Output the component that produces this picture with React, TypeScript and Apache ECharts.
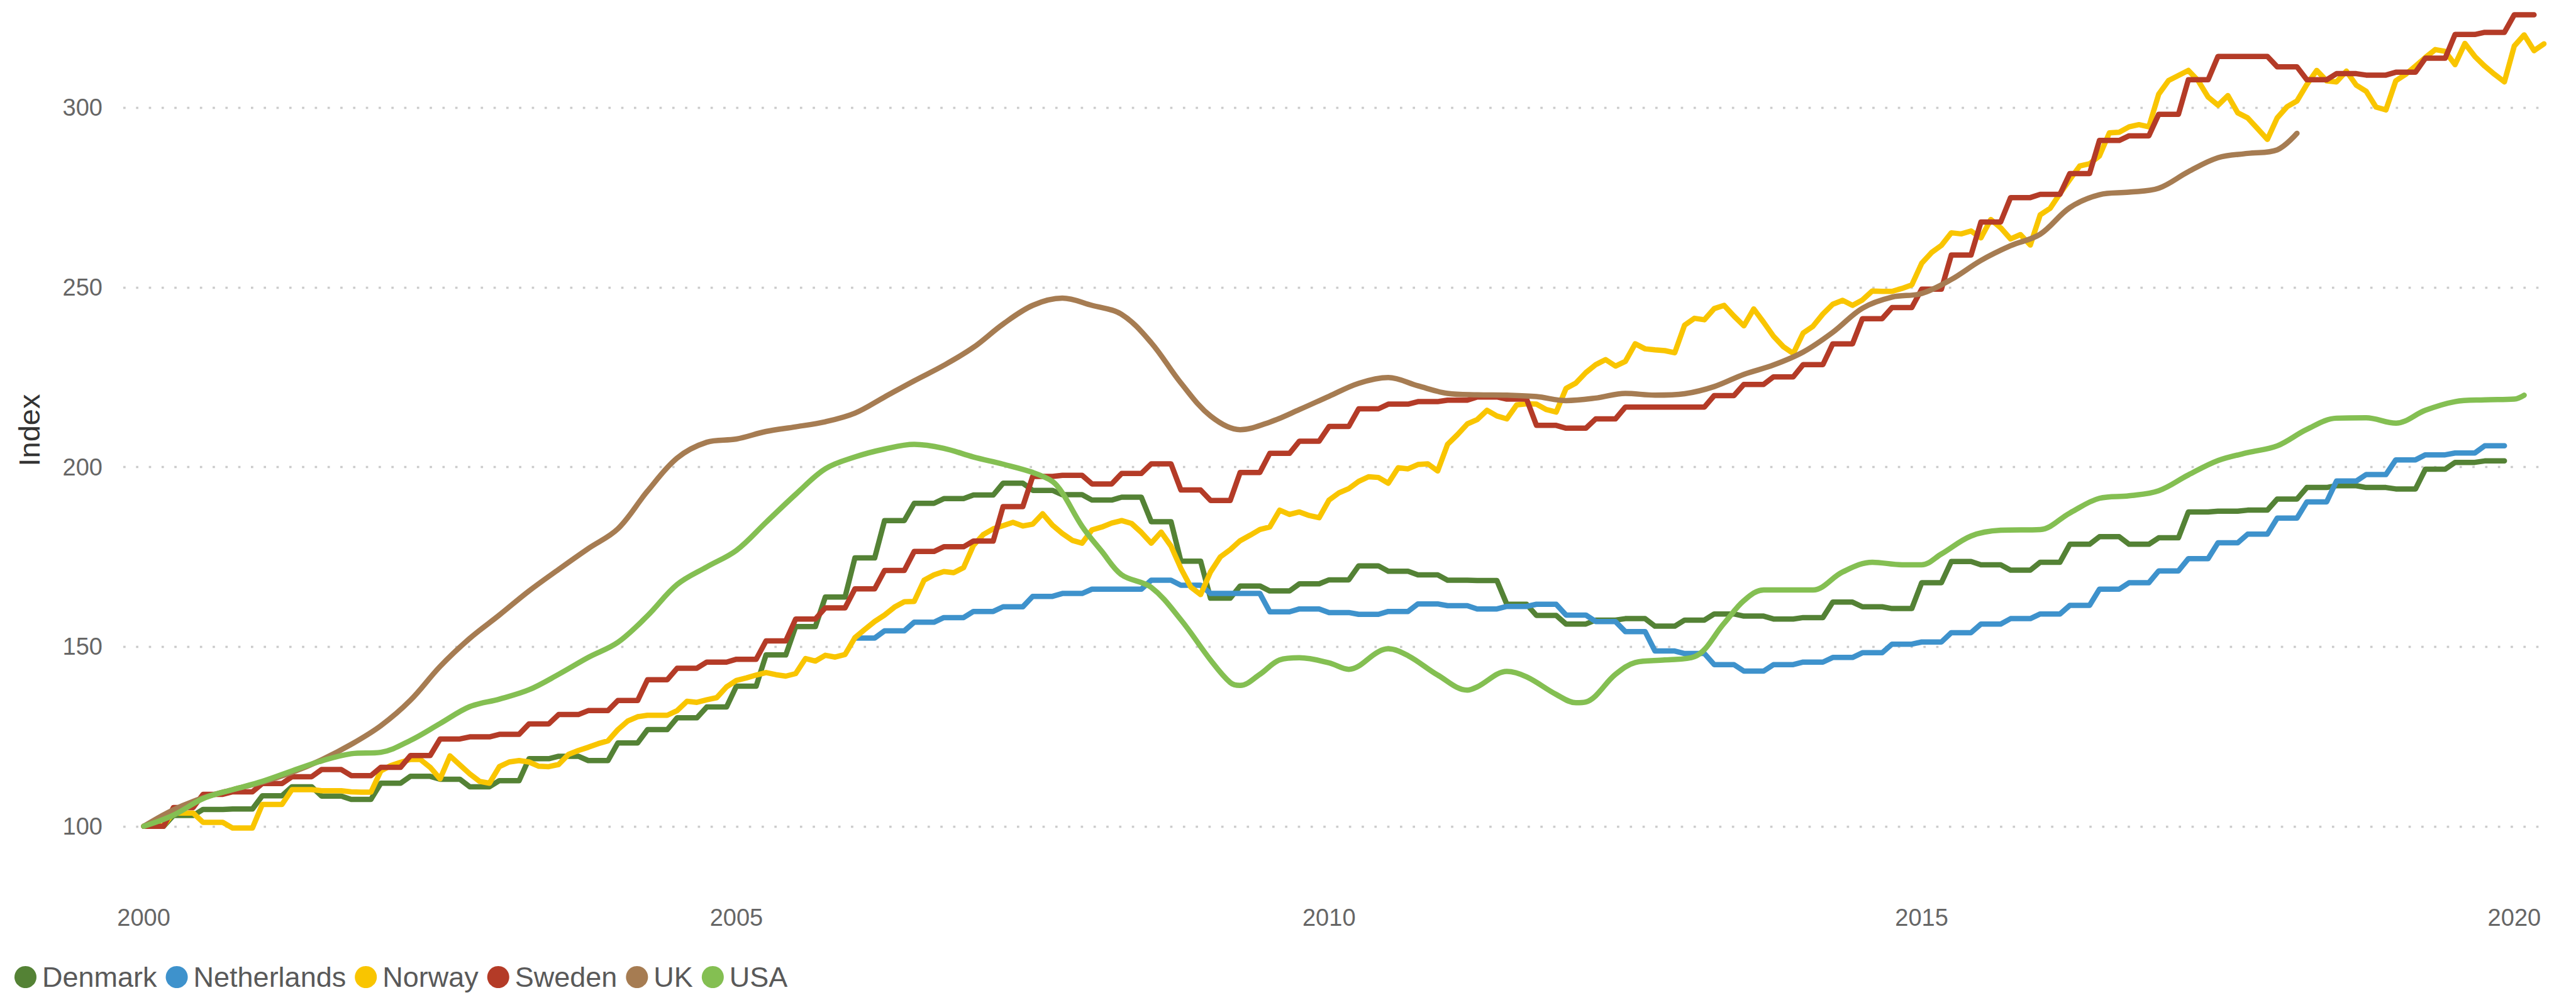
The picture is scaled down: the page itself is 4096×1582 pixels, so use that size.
import React, { useEffect, useRef } from 'react';
import * as echarts from 'echarts';

// ---------------- DATA ----------------
const COUNTRIES = ['Denmark', 'Netherlands', 'Norway', 'Sweden', 'UK', 'USA'];
const COLORS = ['#548235', '#3e92cc', '#f9c500', '#b43b27', '#a67c52', '#84bf52'];
const START_YEAR = 2000;
const Y_TICKS = [100, 150, 200, 250, 300];
const X_TICKS = [2000, 2005, 2010, 2015, 2020];
const Y_TITLE = 'Index';

// quarterly index values, first value = 2000 Q1
const denmarkQ = [
  100, 103.0, 104.7, 104.8, 108.5, 111.0, 108.4, 107.5, 112.0, 113.9,
  113.1, 111.0, 112.7, 118.8, 119.5, 118.3, 123.2, 126.9, 130.2, 133.2,
  139.0, 147.7, 155.6, 163.8, 174.7, 185.1, 189.9, 191.2, 192.2, 195.5,
  193.5, 192.3, 190.8, 191.6, 184.8, 173.8, 163.5, 166.9, 165.5, 167.5,
  168.6, 172.5, 171.0, 170.0, 168.5, 168.4, 161.8, 158.7, 156.3, 157.4,
  157.8, 155.7, 157.4, 159.1, 158.5, 157.7, 158.1, 162.4, 161.1, 160.6,
  167.8, 173.7, 172.8, 171.3, 173.5, 178.5, 180.6, 178.5, 180.3, 187.5,
  187.7, 188.0, 191.1, 194.3, 194.8, 194.3, 193.9, 199.4, 201.3, 201.7,
];

const swedenQ = [
  100, 105.2, 108.9, 109.6, 111.9, 113.8, 115.8, 114.1, 116.4, 119.7,
  124.3, 124.9, 125.6, 128.5, 131.1, 132.2, 135.0, 140.8, 144.0, 145.7,
  146.5, 151.6, 157.7, 160.8, 166.1, 171.2, 176.5, 177.8, 179.4, 189.0,
  197.4, 197.7, 195.3, 198.2, 200.9, 193.6, 190.7, 198.5, 203.8, 207.2,
  211.3, 216.2, 217.5, 218.2, 218.6, 219.5, 218.9, 211.6, 210.8, 213.4,
  216.7, 216.7, 216.7, 219.9, 223.0, 225.1, 228.5, 234.3, 241.3, 244.4,
  249.5, 259.0, 268.2, 275.0, 275.9, 281.7, 290.9, 292.2, 298.2, 307.8,
  314.3, 314.3, 311.4, 307.8, 309.5, 309.1, 309.9, 313.8, 320.4, 321.0,
  325.9,
];

// Netherlands starts in 2006 Q1 (quarter index 24)
const NETHERLANDS_START_Q = 24;
const netherlandsQ = [
  152.4, 154.4, 156.8, 158.1, 159.8, 161.1, 164.0, 164.8, 166.0, 166.0,
  168.5, 167.1, 164.8, 164.8, 159.7, 160.5, 159.5, 159.0, 159.8, 161.9,
  161.4, 160.5, 161.2, 161.8, 158.8, 157.0, 154.2, 148.8, 148.1, 145.0,
  143.2, 145.0, 145.7, 147.0, 148.3, 150.7, 151.3, 153.9, 156.3, 157.8,
  159.1, 161.5, 166.0, 167.8, 171.1, 174.5, 178.9, 181.3, 185.8, 190.3,
  196.1, 197.9, 202.0, 203.4, 203.9, 205.9,
];

// Norway monthly values, Jan 2000 .. Apr 2020
const norwayM = [
  100.0, 100.1, 100.2, 103.7, 103.7, 103.7, 101.1, 101.1, 101.1, 99.5,
  99.5, 99.5, 106.1, 106.1, 106.1, 110.2, 110.2, 110.2, 109.9, 109.9,
  109.9, 109.6, 109.5, 109.5, 115.4, 116.9, 117.8, 118.6, 118.6, 116.4,
  113.2, 119.6, 117.1, 114.6, 112.5, 112.0, 116.6, 117.9, 118.3, 117.9,
  116.7, 116.6, 117.2, 120.0, 121.1, 122.0, 123.0, 123.8, 126.9, 129.3,
  130.5, 130.9, 130.9, 130.9, 132.2, 134.8, 134.5, 135.2, 135.8, 138.8,
  140.6, 141.3, 142.1, 142.8, 142.2, 141.8, 142.5, 146.7, 146.0, 147.6,
  147.1, 147.8, 152.5, 154.8, 157.0, 158.8, 161.0, 162.5, 162.6, 168.5,
  170.0, 170.9, 170.6, 172.0, 178.2, 181.2, 182.8, 183.7, 184.6, 183.6,
  184.1, 187.0, 183.8, 181.5, 179.6, 178.8, 182.5, 183.3, 184.4, 185.1,
  184.3, 181.8, 178.8, 181.9, 178.0, 171.8, 166.6, 164.5, 170.8, 175.0,
  177.0, 179.5, 181.0, 182.6, 183.3, 188.0, 186.8, 187.5, 186.5, 185.9,
  190.8, 192.8, 194.0, 196.0, 197.3, 197.1, 195.5, 199.8, 199.5, 200.7,
  200.9, 198.9, 206.3, 209.0, 212.0, 213.2, 215.8, 214.2, 213.4, 217.3,
  217.6, 217.5, 216.0, 215.3, 221.9, 223.4, 226.3, 228.5, 229.9, 228.1,
  229.4, 234.3, 232.9, 232.6, 232.4, 231.8, 239.5, 241.4, 241.0, 244.1,
  245.0, 242.0, 239.3, 244.0, 240.3, 236.4, 233.5, 231.6, 237.3, 239.2,
  242.6, 245.3, 246.4, 245.0, 246.5, 249.0, 248.9, 248.9, 249.7, 250.7,
  256.7, 259.7, 261.7, 265.2, 264.9, 265.7, 263.8, 268.9, 266.6, 263.5,
  264.7, 261.8, 270.2, 272.0, 276.1, 280.0, 283.8, 284.4, 286.6, 293.0,
  293.2, 294.7, 295.3, 294.7, 303.8, 307.6, 309.0, 310.4, 307.5, 303.0,
  300.7, 303.4, 298.6, 297.2, 294.2, 291.2, 297.2, 300.3, 301.9, 306.5,
  310.4, 307.5, 307.2, 310.2, 306.3, 304.6, 300.2, 299.4, 307.5, 309.3,
  311.6, 314.0, 316.2, 315.7, 312.0, 317.9, 314.3, 311.6, 309.3, 307.2,
  317.2, 320.3, 315.9, 317.8,
];

// UK and USA: [month index from Jan 2000, value]
const ukM = [
  [0, 100.0], [3, 104.6], [6, 107.9], [9, 110.2], [12, 112.3], [15, 115.0], [18, 118.5],
  [21, 122.8], [24, 128.0], [27, 135.1], [30, 144.5], [33, 152.3], [36, 158.8], [39, 165.5],
  [42, 171.5], [45, 177.3], [48, 182.8], [51, 193.3], [54, 202.5], [57, 206.9], [60, 207.8],
  [63, 209.9], [66, 211.2], [69, 212.6], [72, 215.0], [75, 219.5], [78, 224.0], [81, 228.3],
  [84, 233.3], [87, 239.8], [90, 245.0], [93, 247.0], [96, 245.0], [99, 242.5], [102, 234.6],
  [105, 223.4], [108, 214.2], [111, 210.4], [114, 212.5], [117, 216.0], [120, 219.7],
  [123, 223.3], [126, 224.9], [129, 222.6], [132, 220.5], [135, 220.1], [138, 220.0],
  [141, 219.6], [144, 218.5], [147, 219.2], [150, 220.5], [153, 220.0], [156, 220.4],
  [159, 222.4], [162, 225.8], [165, 228.4], [168, 232.0], [171, 237.5], [174, 244.2],
  [177, 247.3], [180, 248.3], [183, 252.2], [186, 257.5], [189, 261.6], [192, 264.8],
  [195, 272.2], [198, 275.8], [201, 276.5], [204, 277.6], [207, 282.2], [210, 286.1],
  [213, 287.3], [216, 288.3], [218, 292.9],
];

const usaM = [
  [0, 100.0], [3, 103.1], [6, 107.7], [9, 110.2], [12, 112.5], [15, 115.4], [18, 118.2],
  [21, 120.2], [24, 120.6], [27, 123.9], [30, 128.6], [33, 133.3], [36, 135.4], [39, 138.0],
  [42, 142.3], [45, 147.0], [48, 151.2], [51, 158.6], [54, 167.3], [57, 172.2], [60, 176.8],
  [63, 184.6], [66, 192.4], [69, 199.5], [72, 202.8], [75, 205.0], [78, 206.3], [81, 205.2],
  [84, 202.8], [87, 200.8], [90, 198.5], [92, 196.0], [93, 192.8], [95, 183.5], [97, 176.5],
  [99, 170.0], [102, 166.5], [105, 157.5], [108, 146.3], [110, 140.0], [111, 139.2],
  [113, 142.3], [115, 146.3], [117, 146.9], [120, 145.5], [122, 143.7], [125, 148.6],
  [126, 149.4], [128, 147.5], [131, 142.1], [134, 137.9], [135, 138.8], [138, 143.1],
  [140, 141.6], [143, 136.7], [145, 134.4], [146, 134.6], [149, 142.3], [151, 145.6],
  [154, 146.3], [157, 147.2], [160, 156.5], [162, 162.8], [164, 165.8], [167, 165.8],
  [169, 165.8], [172, 170.8], [175, 173.5], [178, 172.8], [180, 172.8], [182, 175.8],
  [185, 180.8], [188, 182.4], [192, 182.6], [195, 187.2], [198, 191.3], [201, 192.0],
  [204, 193.4], [207, 197.8], [210, 201.8], [213, 204.0], [216, 205.9], [219, 210.5],
  [222, 213.6], [225, 213.7], [228, 212.2], [231, 215.8], [234, 218.2], [237, 218.7],
  [240, 218.9], [241, 220.0],
];

// ---------------- HELPERS ----------------
const monthToYear = (k: number) => START_YEAR + k / 12;

function quarterlyToMonthly(q: number[], startQ: number) {
  const out: number[][] = [];
  q.forEach((v, i) => {
    for (let m = 0; m < 3; m++) {
      out.push([monthToYear((startQ + i) * 3 + m), v]);
    }
  });
  return out;
}

const monthlyToPoints = (arr: number[]) => arr.map((v, k) => [monthToYear(k), v]);
const pairsToPoints = (arr: number[][]) => arr.map(([k, v]) => [monthToYear(k), v]);

const FONT = '"Liberation Sans", Arial, Helvetica, sans-serif';

export default function App() {
  const ref = useRef<HTMLDivElement>(null);

  useEffect(() => {
    document.body.style.margin = '0';
    if (!ref.current) return;
    const chart = echarts.init(ref.current, undefined, { renderer: 'svg' });

    const seriesData = [
      { data: quarterlyToMonthly(denmarkQ, 0), smooth: false },
      { data: quarterlyToMonthly(netherlandsQ, NETHERLANDS_START_Q), smooth: false },
      { data: monthlyToPoints(norwayM), smooth: false },
      { data: quarterlyToMonthly(swedenQ, 0), smooth: false },
      { data: pairsToPoints(ukM), smooth: 0.35 },
      { data: pairsToPoints(usaM), smooth: 0.35 },
    ];

    const option: any = {
      animation: false,
      backgroundColor: '#ffffff',
      color: COLORS,
      textStyle: { fontFamily: FONT },
      grid: { left: 196, right: 51, top: 0, bottom: 154, containLabel: false, outerBoundsMode: 'none' },
      xAxis: {
        type: 'value',
        min: 1999.827,
        max: 2020.25,
        splitNumber: 5,
        axisLine: { show: false },
        axisTick: { show: false },
        splitLine: { show: false },
        axisLabel: {
          color: '#666666',
          fontSize: 38,
          fontFamily: FONT,
          margin: 12,
          showMinLabel: false,
          showMaxLabel: false,
          formatter: (v: number) => (X_TICKS.includes(Math.round(v * 1000) / 1000) ? String(Math.round(v)) : ''),
        },
      },
      yAxis: {
        type: 'value',
        min: 80,
        max: 330,
        splitNumber: 5,
        axisLine: { show: false },
        axisTick: { show: false },
        axisLabel: {
          color: '#666666',
          fontSize: 38,
          fontFamily: FONT,
          margin: 33,
          showMinLabel: false,
          showMaxLabel: false,
          formatter: (v: number) => (Y_TICKS.includes(v) ? String(v) : ''),
        },
        splitLine: {
          show: true,
          showMinLine: false,
          showMaxLine: false,
          lineStyle: { color: '#cccccc', width: 3.4, type: [3.7, 16.6] },
        },
      },
      legend: {
        show: true,
        left: 18,
        top: 1526,
        icon: 'circle',
        itemWidth: 43,
        itemHeight: 35,
        itemGap: 14,
        selectedMode: false,
        textStyle: { fontSize: 45, color: '#595959', fontFamily: FONT },
        data: COUNTRIES,
      },
      graphic: [
        {
          type: 'text',
          x: 46,
          y: 684,
          rotation: Math.PI / 2,
          style: {
            text: Y_TITLE,
            fontSize: 47,
            fill: '#333333',
            fontFamily: FONT,
            align: 'center',
            verticalAlign: 'middle',
          },
        },
      ],
      series: COUNTRIES.map((name, i) => ({
        name,
        type: 'line',
        data: seriesData[i].data,
        smooth: seriesData[i].smooth,
        showSymbol: false,
        symbol: 'none',
        silent: true,
        color: COLORS[i],
        lineStyle: { width: 8.5, color: COLORS[i], join: 'round', cap: 'round' },
        emphasis: { disabled: true },
      })),
    };

    chart.setOption(option);
    return () => chart.dispose();
  }, []);

  return (
    <div
      ref={ref}
      style={{ position: 'fixed', left: 0, top: 0, width: 4096, height: 1582, background: '#fff' }}
    />
  );
}
